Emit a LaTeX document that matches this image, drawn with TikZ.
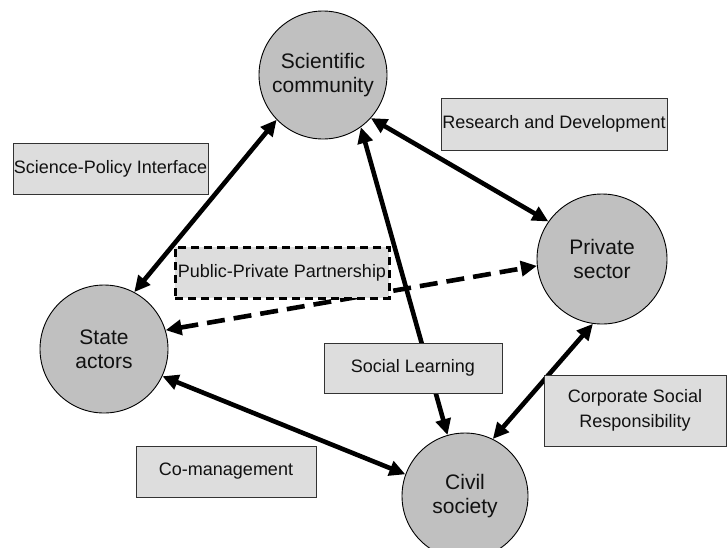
\documentclass[tikz,border=0pt]{standalone}
\usepackage{fontspec}
\setmainfont{Liberation Sans}
\usetikzlibrary{arrows.meta}
\definecolor{circfill}{HTML}{C0C0C0}
\definecolor{boxfill}{HTML}{DDDDDD}
\definecolor{boxline}{HTML}{333333}
\definecolor{txt}{HTML}{111111}
\begin{document}
\begin{tikzpicture}[x=1pt,y=-1pt,
  actor/.style={circle,draw=black,line width=0.9pt,fill=circfill,minimum size=128pt,inner sep=0pt,align=center,text=txt,font=\fontsize{21}{24}\selectfont},
  labelbox/.style={draw=boxline,line width=1pt,fill=boxfill,inner sep=0pt,align=center,text=txt,font=\fontsize{18}{25}\selectfont},
  tip/.tip={Triangle[length=16pt,width=15pt]},
  link/.style={line width=4.6pt,tip-tip},
  dashlink/.style={line width=4.6pt,tip-tip,dash pattern=on 18pt off 9pt},
]
\clip (0,0) rectangle (727,547);
% actors
\node[actor] (sci) at (323,75) {Scientific\\community};
\node[actor, minimum size=130pt] (priv) at (602,259) {Private\\sector};
\node[actor] (state) at (104,349) {State\\actors};
\node[actor, minimum size=126pt] (civil) at (465,496) {Civil\\society};
% connectors
\draw[link] (sci.224) -- (state.62);
\draw[link] (sci.318) -- (priv.145);
\draw[link] (sci.306) -- (civil.106);
\draw[dashlink] (state.17) -- (priv.186);
\draw[link] (state.335) -- (civil.160);
\draw[link] (priv.262) -- (civil.64);
% labels
\node[labelbox, minimum width=195pt, minimum height=51pt] (spi) at (110.5,168.5) {Science-Policy Interface};
\node[labelbox, minimum width=226pt, minimum height=52pt] (rd) at (554,124) {Research and Development};
\node[labelbox, minimum width=214pt, minimum height=51pt, draw=black, line width=3pt, dash pattern=on 8pt off 5pt] (ppp) at (282,272.5) {Public-Private Partnership};
\node[labelbox, minimum width=178pt, minimum height=50pt] (sl) at (413,368) {Social Learning};
\node[labelbox, minimum width=182pt, minimum height=71pt] (csr) at (635,410.5) {Corporate Social\\Responsibility};
\node[labelbox, minimum width=180pt, minimum height=51pt] (com) at (226,471.5) {Co-management};
\end{tikzpicture}
\end{document}
